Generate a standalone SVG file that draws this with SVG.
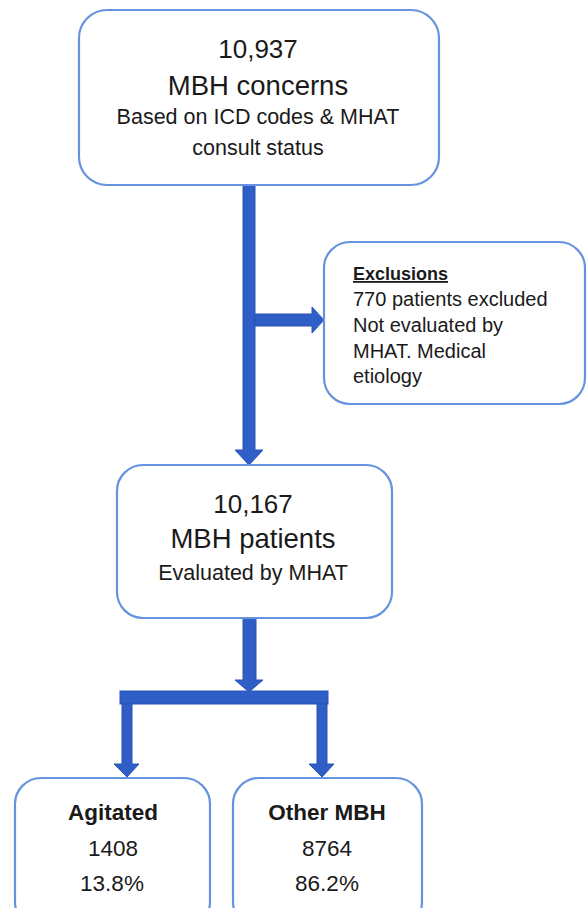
<svg xmlns="http://www.w3.org/2000/svg" width="587" height="908" viewBox="0 0 587 908">
<style>
.box{fill:#ffffff;stroke:#6792DE;stroke-width:2.2}
.conn{fill:#2F5FC6;stroke:#2A55B5;stroke-width:1}
text{font-family:"Liberation Sans",Arial,sans-serif;fill:#1a1a1a;text-anchor:middle}
.big{font-size:26px}
.mid{font-size:27.5px}
.sm{font-size:21.5px}
.ex{font-size:20px;text-anchor:start}
.ext{font-size:18px;font-weight:bold;text-anchor:start}
.b{font-weight:bold}
.bot{font-size:22.5px}
</style>
<rect width="587" height="908" fill="#ffffff"/>
<g id="connectors">
  <path class="conn" d="M243,185 H255 V450 H263 L249,465 L235,450 H243 Z"/>
  <path class="conn" d="M255,314 H312 V307 L324,320 L312,333 V326 H255 Z"/>
  <path class="conn" d="M243,618 H256 V680 H263 L249,692 L235,680 H243 Z"/>
  <rect class="conn" x="120" y="691" width="208" height="13"/>
  <path class="conn" d="M122,704 H132 V764 H139 L127,777 L114,764 H122 Z"/>
  <path class="conn" d="M317,704 H327 V764 H334 L322,777 L309,764 H317 Z"/>
</g>
<g id="node-top">
  <rect class="box" x="79" y="10" width="360" height="175" rx="28"/>
  <text class="big" x="258" y="58">10,937</text>
  <text class="mid" x="258" y="95">MBH concerns</text>
  <text class="sm" x="258" y="124">Based on ICD codes &amp; MHAT</text>
  <text class="sm" x="258" y="155">consult status</text>
</g>
<g id="node-exclusions">
  <rect class="box" x="324" y="242" width="261" height="162" rx="26"/>
  <text class="ext" x="353" y="280" text-decoration="underline">Exclusions</text>
  <text class="ex" x="353" y="306">770 patients excluded</text>
  <text class="ex" x="353" y="332">Not evaluated by</text>
  <text class="ex" x="353" y="358">MHAT. Medical</text>
  <text class="ex" x="353" y="383">etiology</text>
</g>
<g id="node-middle">
  <rect class="box" x="117" y="465" width="275" height="153" rx="26"/>
  <text class="big" x="253" y="513">10,167</text>
  <text class="mid" x="253" y="548">MBH patients</text>
  <text class="sm" x="253" y="580">Evaluated by MHAT</text>
</g>
<g id="node-agitated">
  <rect class="box" x="15" y="778" width="195" height="150" rx="26"/>
  <text class="bot b" x="113" y="820">Agitated</text>
  <text class="bot" x="113" y="856">1408</text>
  <text class="bot" x="112" y="891">13.8%</text>
</g>
<g id="node-other">
  <rect class="box" x="233" y="778" width="189" height="150" rx="26"/>
  <text class="bot b" x="327" y="820">Other MBH</text>
  <text class="bot" x="327" y="856">8764</text>
  <text class="bot" x="327" y="891">86.2%</text>
</g>
</svg>
